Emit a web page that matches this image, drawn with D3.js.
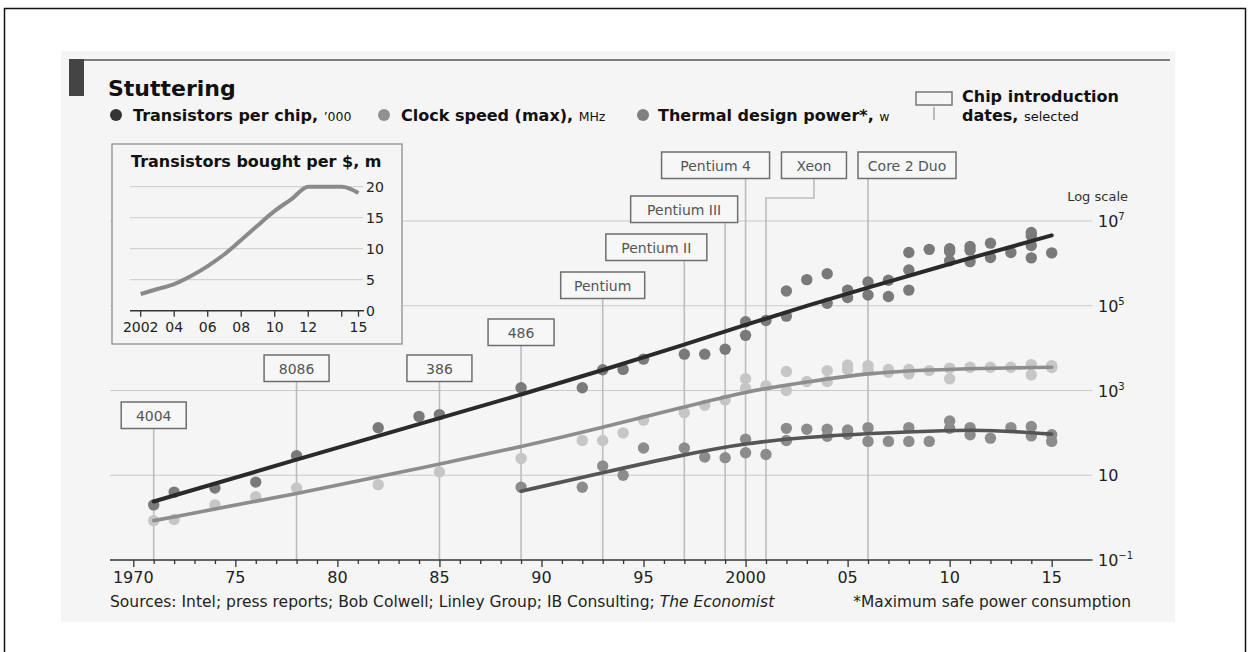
<!DOCTYPE html>
<html><head><meta charset="utf-8">
<script src="https://cdn.jsdelivr.net/npm/d3@7"></script>
<style>
html,body{margin:0;padding:0;background:#fff;}
svg{display:block;font-family:"DejaVu Sans",sans-serif;}
</style></head>
<body>
<svg id="chart" width="1250" height="652"></svg>
<script>
// ---------------- DATA ----------------
const transistorDots = [ // [year, transistors '000]
  [1971,2],[1972,4],[1974,5],[1976,6.9],[1978,29],[1982,132],[1984,245],[1985,270],
  [1989,1160],[1992,1160],[1993,3100],[1994,3150],[1995,5500],[1997,7200],[1998,7200],[1999,9400],
  [2000,20000],[2000,42000],[2001,45000],[2002,57000],[2002,222000],[2003,413000],
  [2004,115000],[2004,570000],[2005,156000],[2005,234000],[2006,180000],[2006,365000],
  [2007,165000],[2007,400000],[2008,234000],[2008,700000],[2008,1800000],[2009,2140000],
  [2010,1150000],[2010,1900000],[2010,2220000],[2011,1100000],[2011,2050000],[2011,2500000],
  [2012,1380000],[2012,3000000],[2013,1800000],[2014,1350000],[2014,2640000],[2014,4500000],[2014,5350000],
  [2015,1770000]
];
const clockDots = [ // [year, MHz]
  [1971,0.85],[1972,0.9],[1974,2],[1976,3.1],[1978,5],[1982,6],[1985,12],
  [1989,25],[1992,66],[1993,66],[1994,100],[1995,200],[1997,300],[1998,450],[1999,600],
  [2000,1130],[2000,1900],[2001,1300],[2002,1000],[2002,2800],[2003,1630],[2004,1630],[2004,2950],
  [2005,3120],[2005,4000],[2006,2950],[2006,3870],[2007,2700],[2007,3120],[2008,2470],[2008,3120],
  [2009,2950],[2010,1880],[2010,3370],[2011,3550],[2012,3550],[2013,3550],[2014,2340],[2014,4090],
  [2015,3500],[2015,3870]
];
const thermalDots = [ // [year, watts]
  [1989,5.2],[1992,5.2],[1993,16.5],[1994,10],[1995,44],[1997,44],[1998,27],[1999,26],
  [2000,34],[2000,71],[2001,31],[2002,66],[2002,128],[2003,122],[2004,83],[2004,122],
  [2005,93],[2005,117],[2006,63],[2006,133],[2007,63],[2008,63],[2008,133],[2009,63],
  [2010,128],[2010,190],[2011,90],[2011,133],[2012,75],[2013,133],[2014,85],[2014,141],
  [2015,63],[2015,90]
];
const transistorTrend = [[1971,2.4],[1978,23.4],[1985,224],[1989,794],[1993,3020],[1997,12000],
  [2000,35500],[2003,100000],[2006,269000],[2010,977000],[2015,4570000]];
const clockTrend = [[1971,0.85],[1978,3.63],[1985,18.2],[1989,46.8],[1993,135],[1997,407],
  [2000,955],[2003,1585],[2006,2630],[2010,3236],[2015,3548]];
const thermalTrend = [[1989,4.2],[1993,11.5],[1997,30.9],[2000,57.5],[2003,79.4],[2006,97.7],
  [2010,115],[2012,117.5],[2015,93.3]];

const chipNames = ["4004","8086","386","486","Pentium","Pentium II","Pentium III","Pentium 4","Xeon","Core 2 Duo"];
const chipYears = [1971,1978,1985,1989,1993,1997,1999,2000,2001,2006];

const xTickYears = [1970,1975,1980,1985,1990,1995,2000,2005,2010,2015];
const xTickLabels = ["1970","75","80","85","90","95","2000","05","10","15"];
const yTickValues = [1e7,1e5,1e3,10,0.1];
const yTickExponents = ["7","5","3","","\u22121"];

const insetYears = [2002,2003,2004,2005,2006,2007,2008,2009,2010,2011,2012,2013,2014,2015];
const insetValues = [2.7,3.5,4.3,5.6,7.2,9.1,11.4,13.8,16.1,18.0,20,20,20,19];
const insetYTicks = [0,5,10,15,20];
const insetXTickYears = [2002,2004,2006,2008,2010,2012,2014,2015];
const insetXTickLabels = ["2002","04","06","08","10","12","","15"];

const legendLabels = ["Transistors per chip, ","Clock speed (max), ","Thermal design power*, "];
const legendUnits = ["\u2019000"," MHz","w"];

// ---------------- LAYOUT / STYLE ----------------
const chipLayout = [
  {dx:0,w:65,top:402},{dx:0,w:65,top:355},{dx:0,w:65,top:355},{dx:0,w:66,top:319},
  {dx:0,w:84,top:272},{dx:-28,w:101,top:234},{dx:-41,w:107,top:196},{dx:-30,w:108,top:152},
  {dx:48,w:65,top:152,elbow:198},{dx:39,w:98,top:152}
];
const boxH = 26.5;
const legendPos = [{dot:116,text:133},{dot:384,text:401},{dot:643,text:658}];
const legendDotColors = ["#333","#909090","#808080"];

const svg = d3.select("#chart");
svg.append("path").attr("d","M4.5,652 V8.5 H1245.5 V652").attr("fill","none").attr("stroke","#111").attr("stroke-width",1.5);
svg.append("rect").attr("x",61).attr("y",51).attr("width",1114).attr("height",571).attr("fill","#f5f5f5");
svg.append("rect").attr("x",69).attr("y",59).attr("width",15).attr("height",37).attr("fill","#444");
svg.append("line").attr("x1",84).attr("x2",1170).attr("y1",60).attr("y2",60).attr("stroke","#555").attr("stroke-width",1.5);

svg.append("text").attr("x",108).attr("y",95.5).attr("font-size",22).attr("font-weight","bold").attr("fill","#111").text("Stuttering");

// legend
legendLabels.forEach((lab,i)=>{
  svg.append("circle").attr("cx",legendPos[i].dot).attr("cy",115).attr("r",6).attr("fill",legendDotColors[i]);
  const t = svg.append("text").attr("x",legendPos[i].text).attr("y",120.5).attr("fill","#111");
  t.append("tspan").attr("font-size",16).attr("font-weight","bold").text(lab);
  t.append("tspan").attr("font-size",12.5).text(legendUnits[i]);
});
svg.append("rect").attr("x",916).attr("y",92).attr("width",36).attr("height",13).attr("fill","none").attr("stroke","#777").attr("stroke-width",1.5);
svg.append("line").attr("x1",934).attr("x2",934).attr("y1",107).attr("y2",120).attr("stroke","#bbb").attr("stroke-width",2);
svg.append("text").attr("x",962).attr("y",102).attr("font-size",16).attr("font-weight","bold").attr("fill","#111").text("Chip introduction");
const t2 = svg.append("text").attr("x",962).attr("y",121).attr("fill","#111");
t2.append("tspan").attr("font-size",16).attr("font-weight","bold").text("dates, ");
t2.append("tspan").attr("font-size",13).text("selected");

// ---------------- MAIN SCALES ----------------
const x = d3.scaleLinear().domain([1970,2015]).range([133.3,1051.7]);
const y = d3.scaleLog().domain([0.1,1e7]).range([560,221]);
const xL = 110, xR = 1092.5;

// gridlines
svg.append("g").selectAll("line").data(yTickValues.slice(0,4)).join("line")
  .attr("x1",xL).attr("x2",xR).attr("y1",d=>y(d)).attr("y2",d=>y(d))
  .attr("stroke","#c9c9c9").attr("stroke-width",1);

// y labels
const yl = svg.append("g").selectAll("text").data(yTickValues).join("text")
  .attr("x",1098).attr("y",d=>y(d)+6).attr("font-size",16).attr("fill","#222");
yl.append("tspan").text("10");
yl.append("tspan").attr("font-size",10).attr("dy",-7).text((d,i)=>yTickExponents[i]);
svg.append("text").attr("x",1128).attr("y",201).attr("text-anchor","end").attr("font-size",13).attr("fill","#333").text("Log scale");

// chip vertical lines
const chipG = svg.append("g");
chipNames.forEach((name,i)=>{
  const L = chipLayout[i], cx = x(chipYears[i]);
  const bx = cx + L.dx, bottom = L.top + boxH;
  let d;
  if (L.elbow) d = `M${bx},${bottom} V${L.elbow} H${cx} V${y(0.1)}`;
  else d = `M${cx},${bottom} V${y(0.1)}`;
  chipG.append("path").attr("d",d).attr("fill","none").attr("stroke","#bdbdbd").attr("stroke-width",1.6);
});

// x axis
const xAxis = d3.axisBottom(x).tickValues(d3.range(1970,2016)).tickSize(4).tickFormat("");
const ax = svg.append("g").attr("transform",`translate(0,${y(0.1)})`).call(xAxis);
ax.select(".domain").remove();
ax.selectAll(".tick line").attr("stroke","#333").attr("stroke-width",1.3)
  .attr("y2",d=>xTickYears.includes(d)?7:4);
svg.append("line").attr("x1",xL).attr("x2",xR).attr("y1",y(0.1)).attr("y2",y(0.1)).attr("stroke","#333").attr("stroke-width",1.6);
svg.append("g").selectAll("text").data(xTickYears).join("text")
  .attr("x",d=>x(d)).attr("y",583).attr("text-anchor","middle").attr("font-size",16).attr("fill","#222")
  .text((d,i)=>xTickLabels[i]);

// ---------------- INSET ----------------
svg.append("rect").attr("x",112).attr("y",144).attr("width",290).attr("height",200)
  .attr("fill","#f5f5f5").attr("stroke","#9a9a9a").attr("stroke-width",1.5);
svg.append("text").attr("x",131).attr("y",166.5).attr("font-size",16).attr("font-weight","bold").attr("fill","#111").text("Transistors bought per $, m");
const ix = d3.scaleLinear().domain([2002,2015]).range([140.7,358.5]);
const iy = d3.scaleLinear().domain([0,20]).range([310.7,186.7]);
svg.append("g").selectAll("line").data(insetYTicks.slice(1)).join("line")
  .attr("x1",130).attr("x2",363).attr("y1",d=>iy(d)).attr("y2",d=>iy(d)).attr("stroke","#c9c9c9");
svg.append("line").attr("x1",130).attr("x2",364).attr("y1",iy(0)).attr("y2",iy(0)).attr("stroke","#333").attr("stroke-width",1.5);
svg.append("g").selectAll("line").data(insetXTickYears).join("line")
  .attr("x1",d=>ix(d)).attr("x2",d=>ix(d)).attr("y1",iy(0)).attr("y2",iy(0)+6).attr("stroke","#333").attr("stroke-width",1.3);
svg.append("g").selectAll("text").data(insetYTicks).join("text")
  .attr("x",366).attr("y",d=>iy(d)+5).attr("font-size",14).attr("fill","#222").text(d=>d);
svg.append("g").selectAll("text").data(insetXTickYears).join("text")
  .attr("x",d=>ix(d)).attr("y",332).attr("text-anchor","middle").attr("font-size",14).attr("fill","#222")
  .text((d,i)=>insetXTickLabels[i]);
svg.append("path").datum(insetYears.map((yr,i)=>[yr,insetValues[i]]))
  .attr("d",d3.line().x(d=>ix(d[0])).y(d=>iy(d[1])).curve(d3.curveMonotoneX))
  .attr("fill","none").attr("stroke","#8a8a8a").attr("stroke-width",4);

// ---------------- DOTS & TRENDS ----------------
const dotR = 5.7;
function dots(data,color){
  svg.append("g").selectAll("circle").data(data).join("circle")
    .attr("cx",d=>x(d[0])).attr("cy",d=>y(d[1])).attr("r",dotR).attr("fill",color);
}
dots(clockDots,"#c6c6c6");
dots(thermalDots,"#8c8c8c");
dots(transistorDots,"#7a7a7a");
const lineGen = d3.line().x(d=>x(d[0])).y(d=>y(d[1])).curve(d3.curveBasis);
function trend(data,color,w){
  svg.append("path").datum(data).attr("d",lineGen).attr("fill","none").attr("stroke",color)
    .attr("stroke-width",w).attr("stroke-linecap","round");
}
trend(clockTrend,"#8d8d8d",3.6);
trend(thermalTrend,"#555",3.6);
trend(transistorTrend,"#2a2a2a",4);

// chip boxes
chipNames.forEach((name,i)=>{
  const L = chipLayout[i], bx = x(chipYears[i]) + L.dx;
  svg.append("rect").attr("x",bx-L.w/2).attr("y",L.top).attr("width",L.w).attr("height",boxH)
    .attr("fill","#f7f7f7").attr("stroke","#6e6e6e").attr("stroke-width",1.5);
  svg.append("text").attr("x",bx).attr("y",L.top+18.5).attr("text-anchor","middle")
    .attr("font-size",14).attr("fill","#555").text(name);
});

// ---------------- FOOTER ----------------
function fit(sel,target){
  const len = sel.node().getComputedTextLength();
  const fs = parseFloat(sel.attr("font-size"));
  sel.attr("font-size",(fs*target/len).toFixed(2));
}
const src = svg.append("text").attr("x",110).attr("y",606.5).attr("font-size",14).attr("fill","#222");
src.append("tspan").text("Sources: Intel; press reports; Bob Colwell; Linley Group; IB Consulting; ");
src.append("tspan").attr("font-style","italic").text("The Economist");
fit(src,665);
const fn = svg.append("text").attr("x",1131).attr("y",606.5).attr("text-anchor","end").attr("font-size",14).attr("fill","#222")
  .text("*Maximum safe power consumption");
fit(fn,278);
</script>
</body></html>
